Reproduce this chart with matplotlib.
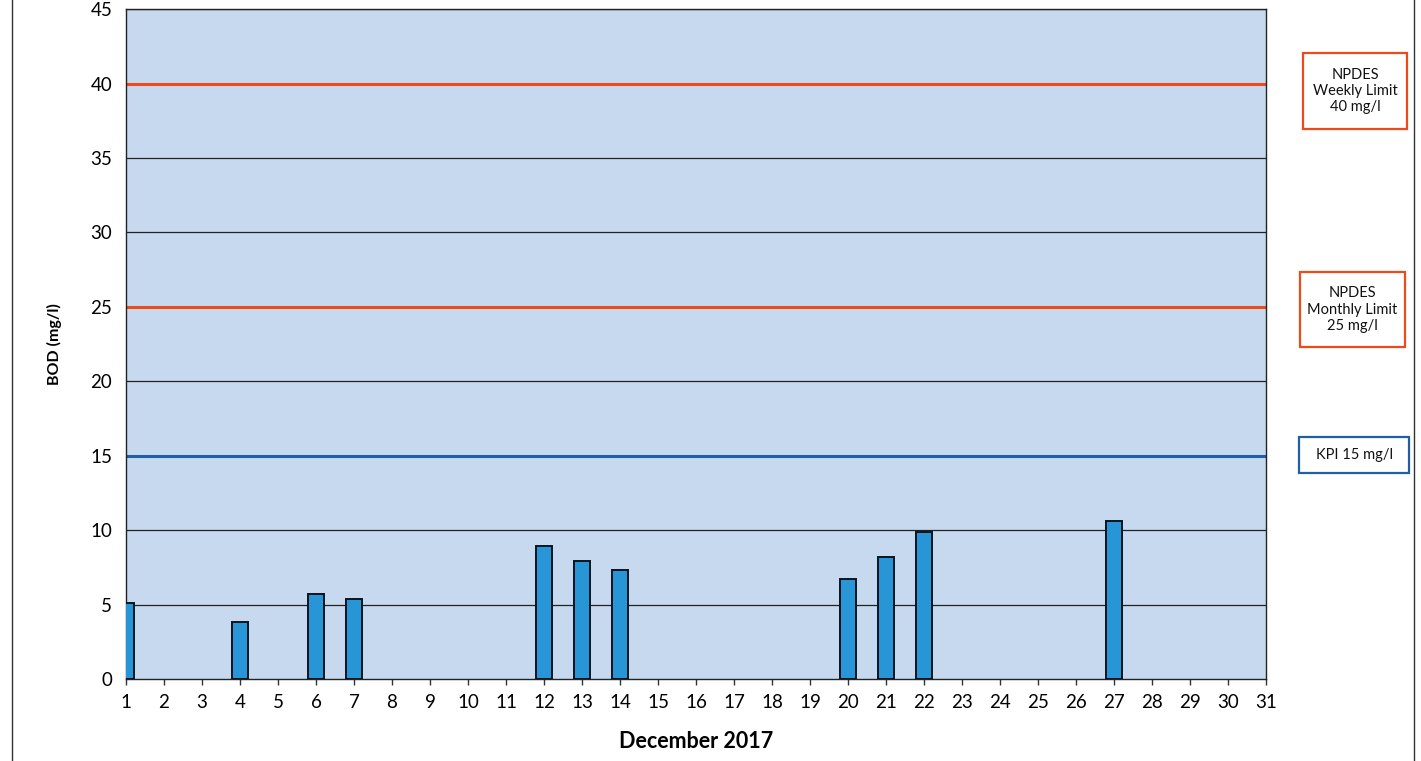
import matplotlib
matplotlib.use("Agg")
import matplotlib.pyplot as plt
from matplotlib.patches import Rectangle
from matplotlib.lines import Line2D

plt.rcParams['font.family'] = ['Lato', 'DejaVu Sans']

days = list(range(1, 32))
bar_days = [1, 4, 6, 7, 12, 13, 14, 20, 21, 22, 27]
bod_values = [5.1, 3.8, 5.7, 5.4, 8.9, 7.9, 7.3, 6.7, 8.2, 9.9, 10.6]
weekly_limit = 40
monthly_limit = 25
kpi_limit = 15
y_ticks = [0, 5, 10, 15, 20, 25, 30, 35, 40, 45]

fig = plt.figure(figsize=(14.21, 7.61), dpi=100)
ax = fig.add_axes([0.0887, 0.1078, 0.8023, 0.8802])
ax.set_facecolor('#c6d9ee')

for y in y_ticks[1:]:
    if y in (weekly_limit, monthly_limit, kpi_limit):
        continue
    ax.axhline(y, color='#222222', lw=0.9, zorder=1)

ax.axhline(weekly_limit, color='#f04a1c', lw=2.2, zorder=2)
ax.axhline(monthly_limit, color='#ee4a1a', lw=2.2, zorder=2)
ax.axhline(kpi_limit, color='#1f5fa5', lw=2.2, zorder=2)

ax.bar(bar_days, bod_values, width=0.42, color='#2896d6', edgecolor='#07131f', lw=1.4, zorder=3)

ax.set_xlim(1, 31)
ax.set_ylim(0, 45)
ax.set_xticks(days)
ax.set_xticklabels([str(d) for d in days], fontsize=13.5)
ax.set_yticks(y_ticks)
ax.set_yticklabels([str(v) for v in y_ticks], fontsize=13.5)
ax.tick_params(axis='x', direction='out', length=4, width=1, pad=7, color='#333333')
ax.tick_params(axis='y', length=0, pad=10)
for s in ax.spines.values():
    s.set_color('#222222')
    s.set_linewidth(1.0)

ax.set_ylabel('BOD (mg/l)', fontsize=11.5, fontweight='bold', labelpad=20)
ax.set_xlabel('December 2017', fontsize=15.5, fontweight='bold', labelpad=14)

def box(x0, y0, x1, y1, text, ec):
    W, H = 1421, 761
    fig.patches.append(Rectangle((x0 / W, 1 - y1 / H), (x1 - x0) / W, (y1 - y0) / H,
                                 transform=fig.transFigure, facecolor='white',
                                 edgecolor=ec, lw=1.6))
    fig.text((x0 + x1) / 2 / W, 1 - (y0 + y1) / 2 / H, text, ha='center', va='center',
             fontsize=10.5, linespacing=1.2, color='#111111')

box(1303, 53, 1407, 129, 'NPDES\nWeekly Limit\n40 mg/l', '#f04a1c')
box(1300, 272, 1405, 347, 'NPDES\nMonthly Limit\n25 mg/l', '#ee4a1a')
box(1299, 437, 1409, 473, 'KPI 15 mg/l', '#1f5fa5')

fig.lines.append(Line2D([12 / 1421, 12 / 1421], [0, 1], transform=fig.transFigure, color='#333333', lw=1))
fig.lines.append(Line2D([1414 / 1421, 1414 / 1421], [0, 1], transform=fig.transFigure, color='#333333', lw=1))

fig.savefig('out.png', dpi=100, facecolor='white')
